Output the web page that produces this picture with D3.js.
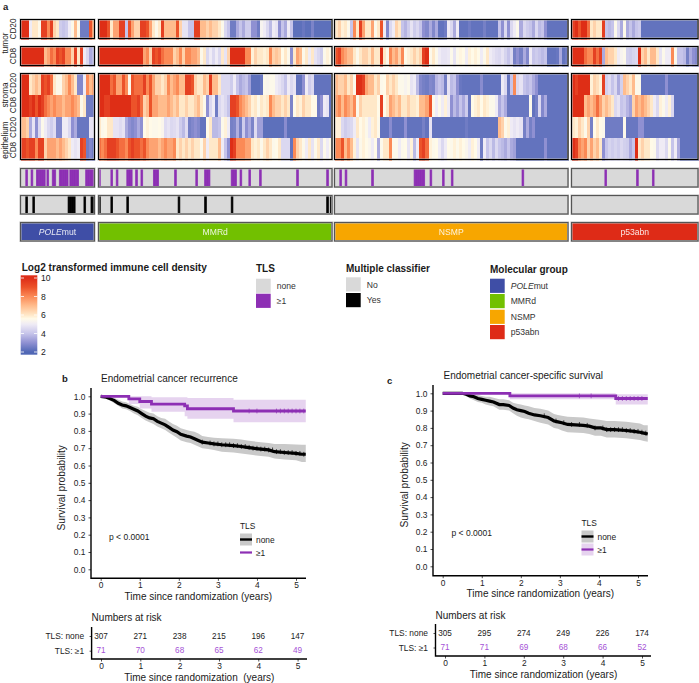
<!DOCTYPE html>
<html><head><meta charset="utf-8">
<script src="https://cdn.jsdelivr.net/npm/d3@7"></script>
<style>
html,body{margin:0;padding:0;background:#fff}
text{font-family:"Liberation Sans",Arial,sans-serif;fill:#1a1a1a}
</style></head><body>
<svg id="c" width="699" height="683"></svg>
<script>
// ---------- heatmap values, one array per row per molecular group ----------
const groups = ["POLEmut","MMRd","NSMP","p53abn"];
const groupColors = ["#3f4ea6","#72c000","#f7a600","#de2b17"];
const groupPatients = [42,132,132,72];

const tumorCD20_POLE=[10,10,10,5,6,6,5.5,9.5,9.5,8,9.5,6.5,6,4.2,4,4.2,5,5.5,7,5.5,2.5,2.5,2.5,9,7.5];
const tumorCD8_POLE=[10,10,10,10,10,10,10,10,7,7.5,8.5,8,9.5,9,9.5,8,8,6.5,9.5,6,9.5,5,4.5,3.5,3.8];
const stromaCD20_POLE=[10,10,10,6,6.5,7,6.5,9.5,9,9.5,8.5,6,5.5,5.5,6.5,7,8,7,6,2.8,2.8,5,8,7,7.5];
const stromaCD8_POLE=[10,10,10,9.5,10,9,10,9.5,8.5,8,7.5,8,7.5,7.5,7,7.5,7.5,8,7.5,7,5.5,6,2.5,2.5,2.5];
const epiCD20_POLE=[7,7,6.5,3.5,4.8,3,4.5,5.5,5,4.5,4.2,4.6,2.8,2.8,5,5,4.5,3,3.5,2.4,2.4,2.4,2.4,4.8,4.8];
const epiCD8_POLE=[9.5,9.5,9,9.5,9.5,8,9.5,9.5,6.5,7.5,7.5,7.5,7,7.5,7,6.5,6,5,4.8,5,9.5,9,2.5,2.8,2.5];

const tumorCD20_MMRd=[10,10,10,9,6,7.5,7.5,9.5,9.5,4,9,7.5,6.5,6.5,9.5,9.5,9,7.5,6,5.5,6,9.5,7,7,7,7,9,6.5,4.8,4.8,4,4,9.5,9.5,7,7,6.5,7,6.5,
 6.5,6,5.5,4.5,4,2.5,2.5,3.5,4,3.5,4.2,4.2,3,3,2.5,5.3,5,4.5,3.8,5,4.8,3,4,3.5,5,4,2.2,2.2,2.2,2.4,2.2,2.2,2.7,2.2,2.2,2.2,2.2,2.2,2.2];
const tumorCD8_MMRd=[10,10,10,10,10,10,10,10,10,10,10,10,10,10,10,7.5,8,6.5,9.5,9,9.5,8.5,8,8,8,6.5,7,8,6.5,8,8,7.5,7.5,7,5.5,6,4.5,5,4.5,
 5,4.5,6,4.8,6.5,10,10,10,10,10,8,8,5.8,6.5,6,6,5.8,6,8,6.5,6.8,6.5,5.6,6,5.5,3,6,7.5,7,5.5,6,5,6,4.8,4.5,4.2,5.5,5.8,5.6];
const stromaCD20_MMRd=[10,10,10,10,8.5,9,7.5,7.5,9,8,5.5,9,8.5,8.5,8.5,9.5,8,9,7.5,6.5,6.5,6,6.5,8,7,7.5,8,7,7,9.5,9.5,9,6.5,6,6,7,6.5,9.5,7,
 7,6,4.5,4.5,4.5,4.2,5,4,3.5,3.8,4,3.3,2.2,2.2,2.2,2.4,5.5,5.4,5.5,5.5,5,4.8,4.5,4,5,4.5,4.8,2.3,2.3,3,5,4.2,4.5,2.3,2.3,2.3,2.3,2.3,2.3];
const stromaCD8_MMRd=[10,10,9.5,9.5,10,10,10,10,10,10,10,9,9,9.5,8.5,6.5,7,9,7.5,7.5,7,7,7,7.5,7,6.5,7,6,6,6.5,6,6,6.5,7,6,5.5,3,4.5,5,
 2.5,4.5,4.8,4.5,4,9.5,9.5,9,8,7.5,7,6.5,5.8,6,5.5,6,5.8,6,8,7,6.5,6.5,6,6.5,6,2.7,5.6,6,5.8,6.5,6,6,5.6,5.6,2.5,3,5,4.8,2.3];
const epiCD20_MMRd=[6,5.5,5.6,6,6,4.8,4.8,4.6,4.8,3.5,3,2.8,3,3.5,3,5.6,5.8,5.6,5.5,5.5,5.6,5.4,4.6,4.8,4.5,4.6,4.8,4.2,3.8,4.6,2.6,2.8,3,2.8,2.3,2.3,5.6,6,3.8,
 3.8,4,5.5,5.8,5,2.6,2.7,3.6,2.6,4.2,3,3.5,2.7,4.6,3.3,3.3,2.2,2.2,2.2,2.2,2.2,2.2,2.2,2.9,2.2,2.2,2.2,2.2,2.2,2.2,2.2,2.2,2.2,2.2,2.2,2.2,2.2,2.2,2.2];
const epiCD8_MMRd=[8.5,8,8.5,9.5,9.5,9.5,9,8.5,8.5,8,9,9.5,9,9,8.5,9,8,7.5,7.5,7.5,7,7.5,8,7.5,7.5,8,6,6.5,6,6.5,6,6.5,6,6,5.5,6.5,5,6,6,
 6,7,5,4,3,10,9.5,8,8,8,7.5,7.5,6,5.8,6,5.5,6,6.5,6,5.5,5.6,6,4.5,4.5,4.5,2.3,8,6.5,6,5.5,5,6,4.8,5.5,6,4.5,5.5,5,5.5];

const tumorCD20_NSMP=[6,6.5,5.8,6,5.5,4,8,6,9.5,7.5,6,6,7.5,5.5,6,9,5,2.8,4.5,5,6.5,6,4,3.7,4.2,4.8,4.2,4.5,4,3,2.8,3.5,2.8,3.5,2.3,2.3,2.5,5,4.5,
 3.5,5,2.3,2.3,2.3,2.5,2.3,2.3,2.3,2.3,2.6,2.3,2.3,2.3,2.3,4,3,4.5,3,4.5,5,5.5,3.5,4.5,4.2,4,3.5,4.5,3.8,4,3,2.3,2.3,2.3,2.3,2.3,2.3,2.3];
const tumorCD8_NSMP=[9,9.5,8,7.5,7,7,6,5.5,6,6.5,6.5,6,7,6,6,10,6,5.5,8,7,7.5,6.5,8,5.6,5.8,6,6.5,6,6.5,9.5,10,5.5,6,5.5,5,4.8,4.8,4.9,5.5,
 4.8,5.5,5.7,5.6,5,5.8,5.6,5.8,5.6,5,5.5,6,5,4.8,4.6,4.5,4.8,4.4,4,4.5,2.6,3,2.6,3.5,2.8,5,4,4.2,4,3.8,4,2.3,2.3,2.3,2.4,3.5,2.3,2.5];
const stromaCD20_NSMP=[7,6.5,6.5,7,6,6.5,5.5,10,10,9.5,7.5,7,7,6,6.5,5.5,5.6,6.5,6,6.5,6,5.5,5.5,5.3,5.5,4.8,5,3.8,2.8,2.6,2.5,2.8,2.7,3.7,4,3.8,2.6,4.8,3.8,
 4,3,2.4,2.3,2.3,2.3,2.3,2.3,2.3,2.9,2.3,2.3,2.3,2.3,2.3,2.3,5,4.5,2.4,4,8,4.5,4.8,4,3.8,4,3.5,3,2.3,2.3,2.3,2.3,2.3,2.3,2.3,2.3,2.3,2.3];
const stromaCD8_NSMP=[7.5,8,7,8,7.5,7,8,5.5,6.5,6,6,6,6,6,5.6,9.5,5.6,6,7.5,7,6.5,7,6,6,6.5,6,6,5.8,7,7,7.5,9,5.5,5,5.5,5,5.8,5,3,
 3.8,3.3,4,3.5,4.2,2.4,5.6,5.8,6,5.6,6,5.8,5.5,5.5,5,3.5,4,3.5,2.4,2.4,2.4,2.4,2.4,2.4,2.4,5.5,2.3,2.6,4.5,2.8,3.5,2.3,2.3,2.3,2.3,2.3,2.3,2.3];
const epiCD20_NSMP=[5.8,5.8,4.5,4.2,4.4,4.5,5,6,5.6,5.8,5.5,5,5.8,6,5.5,2.3,2.3,2.3,2.9,2.3,2.3,2.3,2.3,3,2.3,2.3,2.3,2.3,2.3,2.6,2.3,4.8,2.3,2.3,2.3,2.3,2.3,2.3,2.3,
 2.3,2.3,2.3,2.3,2.5,2.3,2.3,2.3,2.3,2.3,2.3,2.3,2.3,2.3,2.3,7,6.5,5.5,5.8,5,4.8,5,4.8,2.6,3.5,2.6,3,2.3,2.3,2.3,2.3,2.3,2.3,2.3,2.3,2.3,2.3,2.3];
const epiCD8_NSMP=[8,8,9,7,8,7,5.8,4.8,5.5,5.8,5.6,5.4,5,5.6,3.5,5.5,6,6,8,5.5,5.5,5,5.5,5.6,4.8,5.8,3.8,5,9,9.5,8.5,5.8,5.5,5.6,5,4.5,5,5.6,5.5,
 5.8,5.5,5.8,5.6,5.4,5,5.8,5.6,5,2.5,5,4,4.5,3.8,4.5,4,3.8,3.5,4,3.5,3.3,2.3,2.3,2.3,2.3,2.3,2.3,2.3,2.3,2.3,3,2.3,2.3,2.3,2.3,2.3,2.3,2.3];

const tumorCD20_p53=[9.5,10,9,10,10,8.5,6,6.5,6,6,9.5,4,3.8,4,5.5,4.5,3.5,5.5,3.5,4,3.5,4,4.2,2.3,2.3,2.3,2.3,2.3,2.3,2.3,2.3,2.3,2.3,2.3,2.3,2.3,2.3,2.3,2.3,2.3,2.3,2.3];
const tumorCD8_p53=[10,10,10,10,8.5,8,8,9.5,8.5,9.5,3.5,7,6.5,6.5,6,5,5.3,5.5,4.3,4.2,4.4,4.5,10,6.5,7,6,7,7,6,4.8,5.5,5,5,8,5.5,4,4,3.8,2.6,3.5,3,2.8];
const stromaCD20_p53=[10,9.5,10,10,10,10,5.8,6.5,6.2,5.8,9.5,4.3,4.6,4,4.5,3.5,4.3,7,6.5,6,7,5.5,5.5,2.3,2.3,2.3,2.3,2.3,2.3,2.3,2.3,3,2.3,2.3,2.3,2.3,2.3,2.3,2.3,2.3,2.3,2.3];
const stromaCD8_p53=[10,10,10,10,7,7.5,7,7.5,8.5,7.5,6.5,7,6.5,6,4.5,4.8,4,4.2,3.7,3.3,6.5,7.5,7,7.5,7,6.5,6,5,4.5,5.8,5.5,5,5.8,4.5,2.3,2.3,2.3,2.3,2.3,2.3,2.3,2.3];
const epiCD20_p53=[6,5.8,6.5,6,5.5,6.5,2.6,5.6,6,5.6,5.5,2.5,2.5,2.5,2.5,2.5,2.5,5.5,2.4,2.4,2.4,2.4,3,3,2.3,2.3,2.3,2.3,2.3,2.3,2.3,2.3,2.3,2.3,2.3,2.3,2.3,2.3,2.3,2.3,2.3,2.3];
const epiCD8_p53=[10,9.5,8,7.5,8,6.5,7.5,6.5,7,6,3,4,4.4,4.2,4.4,4.2,4.5,4.3,4.2,3.5,4,10,6,6.5,6,6,5.6,5.5,4.5,5,5,4.5,5.5,4,5,3.5,2.3,2.3,2.3,2.3,2.3,2.3];

// ---------- annotation tracks: patient positions within each group ----------
const tlsPOLE=[3,6,9,10,11,12,13,15,18,19,22,23,24,25,26,28,29,30,31,32,37,38,39,40,41];
const tlsMMRd=[0,7,10,16,17,18,21,24,31,32,33,43,55,60,61,62,75,76,77,80,85,91,112,129];
const tlsNSMP=[3,6,21,45,46,47,48,49,50,54,61,66,106];
const tlsP53=[19,37,46];
const multiPOLE=[3,7,27,28,29,30,36,40,41];
const multiMMRd=[0,7,16,45,60,75,129,131];
const multiNSMP=[];
const multiP53=[];

const densityTicks=[2,4,6,8,10];
const colorStops=[2,3,4,5,5.6,6,7,8,9,10];
const colorValues=["#5067b5","#8f90d2","#c6c4ea","#efebf5","#fffae8","#ffe8c8","#ffbc8d","#fb8a57","#ec5229","#de2d18"];

// ---------- Kaplan-Meier curves ----------
const bNoneT=[0,.15,.25,.35,.45,.55,.65,.75,.85,.95,1.05,1.15,1.25,1.35,1.45,1.55,1.65,1.75,1.85,1.95,2.05,2.2,2.3,2.4,2.5,2.6,2.75,2.9,3.1,3.4,3.6,3.75,3.9,4.1,4.3,4.45,4.7,5.0,5.15,5.25];
const bNoneS=[1,.995,.985,.975,.96,.95,.945,.935,.925,.915,.90,.885,.875,.87,.855,.845,.835,.82,.805,.795,.78,.77,.765,.755,.745,.735,.73,.725,.72,.715,.71,.705,.70,.695,.69,.68,.675,.67,.665,.665];
const bNoneL=[1,.985,.975,.96,.945,.93,.925,.915,.90,.89,.875,.86,.85,.84,.825,.815,.805,.79,.775,.76,.745,.735,.73,.72,.71,.70,.695,.69,.68,.675,.67,.665,.66,.655,.65,.64,.635,.63,.62,.62];
const bNoneU=[1,1,.995,.99,.98,.97,.965,.955,.945,.94,.925,.915,.905,.90,.885,.875,.87,.855,.84,.83,.815,.805,.80,.795,.785,.77,.765,.76,.757,.755,.75,.745,.74,.735,.73,.725,.725,.722,.72,.72];
const bTlsT=[0,.72,1.0,1.3,2.15,2.22,3.4,5.25];
const bTlsS=[1,.985,.97,.955,.945,.928,.915,.915];
const bTlsL=[1,.955,.93,.91,.885,.87,.85,.85];
const bTlsU=[1,1,1,.995,.995,.99,.98,.98];
const cNoneT=[0,.5,.6,.7,.8,.9,1,1.1,1.2,1.3,1.45,1.55,1.7,1.8,1.9,2,2.1,2.2,2.35,2.5,2.7,2.85,2.95,3.05,3.2,3.6,3.75,3.9,4.05,4.2,4.4,4.7,4.9,5.05,5.15,5.25];
const cNoneS=[1,1,.995,.985,.98,.97,.965,.96,.955,.95,.935,.935,.93,.915,.905,.9,.895,.885,.875,.87,.86,.84,.835,.83,.82,.815,.81,.80,.80,.79,.79,.785,.78,.775,.77,.765];
const cNoneL=[1,.995,.985,.97,.96,.95,.945,.935,.93,.925,.905,.905,.9,.885,.87,.86,.855,.85,.84,.83,.82,.80,.795,.785,.775,.77,.765,.755,.755,.745,.745,.74,.735,.73,.725,.72];
const cNoneU=[1,1,1,.995,.995,.99,.985,.98,.98,.975,.965,.965,.96,.945,.94,.935,.93,.925,.915,.91,.90,.88,.875,.87,.865,.86,.855,.85,.845,.84,.84,.835,.83,.825,.815,.815];
const cTlsT=[0,1.72,4.43,5.25];
const cTlsS=[1,.985,.97,.97];
const cTlsL=[1,.965,.935,.935];
const cTlsU=[1,1,.995,.995];
const bNoneCens=[2.6,2.8,2.9,3.0,3.1,3.2,3.3,3.4,3.5,3.6,3.7,3.8,3.9,4.0,4.1,4.2,4.3,4.4,4.5,4.6,4.7,4.8,4.9,5.0,5.1,5.2];
const bTlsCens=[3.8,4.0,4.5,4.6,4.7,4.8,4.9,5.0,5.1,5.2];
const cNoneCens=[2.6,2.9,3.1,3.3,3.5,3.7,3.9,4.1,4.2,4.3,4.4,4.5,4.6,4.7,4.8,4.9,5.0,5.1,5.2];
const cTlsCens=[3.5,3.8,4.5,4.6,4.7,4.8,4.9,5.0,5.1];
const timeTicks=[0,1,2,3,4,5];
const survTicks=[0,.1,.2,.3,.4,.5,.6,.7,.8,.9,1];
const bRiskNone=[307,271,238,215,196,147];
const bRiskTls=[71,70,68,65,62,49];
const cRiskNone=[305,295,274,249,226,174];
const cRiskTls=[71,71,69,68,66,52];

const BLACK="#000", PURPLE="#8d2fb4", RISKP="#a552d6";
const svg=d3.select("#c");
const color=d3.scaleLinear().domain(colorStops).range(colorValues).clamp(true);

// ---------- helper ----------
function txt(x,y,s,o={}){
  const t=svg.append("text").attr("x",x).attr("y",y).attr("font-size",o.size||9)
    .attr("text-anchor",o.anchor||"start").attr("dominant-baseline","central").text(s);
  if(o.weight)t.attr("font-weight",o.weight);
  if(o.fill)t.style("fill",o.fill);
  if(o.rot!==undefined)t.attr("transform",`rotate(${o.rot} ${x} ${y})`);
  if(o.pre)t.style("white-space","pre");
  return t;
}

// ---------- heatmap ----------
const panelX=d3.scaleOrdinal().domain(groups).range([[20.5,94.5],[98.5,332],[334.5,568],[571.5,698]]);
const rows=[
 {y0:19.5,y1:38.5,d:[tumorCD20_POLE,tumorCD20_MMRd,tumorCD20_NSMP,tumorCD20_p53]},
 {y0:46.5,y1:65.5,d:[tumorCD8_POLE,tumorCD8_MMRd,tumorCD8_NSMP,tumorCD8_p53]},
 {y0:73.5,y1:95,d:[stromaCD20_POLE,stromaCD20_MMRd,stromaCD20_NSMP,stromaCD20_p53]},
 {y0:95,y1:116.5,d:[stromaCD8_POLE,stromaCD8_MMRd,stromaCD8_NSMP,stromaCD8_p53]},
 {y0:116.5,y1:138,d:[epiCD20_POLE,epiCD20_MMRd,epiCD20_NSMP,epiCD20_p53]},
 {y0:138,y1:159.5,d:[epiCD8_POLE,epiCD8_MMRd,epiCD8_NSMP,epiCD8_p53]}
];
const defs=svg.append("defs");
defs.append("filter").attr("id","soft").attr("x","-2%").attr("y","-2%").attr("width","104%").attr("height","104%")
  .append("feGaussianBlur").attr("stdDeviation","0.45 0.15");
function frame(x0,x1,y0,y1,stroke){
  svg.append("rect").attr("x",x0).attr("y",y0).attr("width",x1-x0).attr("height",y1-y0)
   .attr("fill","none").attr("stroke","#b5b5b5").attr("stroke-width",2);
  svg.append("rect").attr("x",x0).attr("y",y0).attr("width",x1-x0).attr("height",y1-y0)
   .attr("fill","none").attr("stroke",stroke).attr("stroke-width",1);
}
groups.forEach((g,gi)=>{
  const [x0,x1]=panelX(g);
  rows.forEach(r=>{
    const vals=r.d[gi];
    const x=d3.scaleBand().domain(d3.range(vals.length)).range([x0,x1]);
    svg.append("g").attr("shape-rendering","crispEdges").attr("filter","url(#soft)")
      .selectAll("rect").data(vals).join("rect")
      .attr("x",(d,i)=>x(i)).attr("y",Math.round(r.y0)).attr("width",x.bandwidth()+.6).attr("height",Math.round(r.y1)-Math.round(r.y0)+.5)
      .attr("fill",d=>color(d));
  });
  frame(x0,x1,19.5,38.5,"#000");
  frame(x0,x1,46.5,65.5,"#000");
  frame(x0,x1,73.5,159.5,"#000");

  // annotation tracks
  const px=d3.scaleBand().domain(d3.range(groupPatients[gi])).range([x0,x1]);
  const track=(list,col,y0,y1)=>{
    svg.append("rect").attr("x",x0).attr("y",y0).attr("width",x1-x0).attr("height",y1-y0).attr("fill","#d9d9d9");
    svg.append("g").selectAll("rect").data(list).join("rect")
      .attr("x",d=>px(d)).attr("y",y0).attr("width",px.bandwidth()).attr("height",y1-y0)
      .attr("fill",col).attr("stroke",col).attr("stroke-width",.7);
    frame(x0,x1,y0,y1,"#555");
  };
  track([tlsPOLE,tlsMMRd,tlsNSMP,tlsP53][gi],PURPLE,168.5,187);
  track([multiPOLE,multiMMRd,multiNSMP,multiP53][gi],BLACK,195.5,214);
  svg.append("rect").attr("x",x0).attr("y",222.5).attr("width",x1-x0).attr("height",18.5).attr("fill",groupColors[gi]);
  frame(x0,x1,222.5,241,"#555");
  const lab=txt((x0+x1)/2,232,"",{size:8.6,anchor:"middle",fill:"#ffffff"});
  lab.style("fill","#fff").style("opacity",.88);
  if(g==="POLEmut"){
    lab.append("tspan").attr("font-style","italic").style("fill","#fff").text("POLE");
    lab.append("tspan").style("fill","#fff").text("mut");
  } else lab.text(g);
});

// row labels
[["tumor",5,43],["CD20",13.5,29],["CD8",13.5,56],["stroma",5,95],["CD20",13.5,83.5],["CD8",13.5,105],
 ["CD20",13.5,127.5],["epithelium",5,140],["CD8",13.5,150]].forEach(d=>txt(d[1],d[2],d[0],{size:8.2,anchor:"middle",rot:-90}));
txt(3,6,"a",{size:9.5,weight:"bold"});

// ---------- legends ----------
txt(21.7,267,"Log2 transformed immune cell density",{size:10.1,weight:"bold"});
const barY=d3.scaleLinear().domain([2,10]).range([352,278]);
const grad=defs.append("linearGradient").attr("id","cb").attr("x1",0).attr("x2",0).attr("y1",1).attr("y2",0);
grad.selectAll("stop").data(colorStops).join("stop")
  .attr("offset",d=>(d-2)/8).attr("stop-color",d=>color(d));
svg.append("rect").attr("x",20.7).attr("y",275.3).attr("width",16.6).attr("height",3).attr("fill",color(10));
svg.append("rect").attr("x",20.7).attr("y",352).attr("width",16.6).attr("height",2.7).attr("fill",color(2));
svg.append("rect").attr("x",20.7).attr("y",278).attr("width",16.6).attr("height",74).attr("fill","url(#cb)");
densityTicks.forEach(t=>{
  svg.append("path").attr("d",`M20.7 ${barY(t)}h3.3M34 ${barY(t)}h3.3`).attr("stroke","#fff").attr("stroke-width",.8);
  txt(41,barY(t),String(t),{size:8.6});
});
function legend(x,title,titleY,items,labX){
  txt(x,titleY,title,{size:10,weight:"bold"});
  items.forEach(it=>{
    svg.append("rect").attr("x",x).attr("y",it.y).attr("width",14.7).attr("height",14.2).attr("fill",it.c);
    const t=txt(labX,it.y+7.3,"",{size:8.6,fill:"#333"});
    if(it.it){t.append("tspan").attr("font-style","italic").text(it.it);t.append("tspan").text(it.l);}
    else t.text(it.l);
  });
}
legend(256,"TLS",268.3,[{y:278.7,c:"#d9d9d9",l:"none"},{y:293.7,c:PURPLE,l:"≥1"}],276.7);
legend(346,"Multiple classifier",268,[{y:277.3,c:"#d9d9d9",l:"No"},{y:293,c:"#000",l:"Yes"}],366.7);
legend(490,"Molecular group",269,[{y:278.7,c:groupColors[0],it:"POLE",l:"mut"},{y:294,c:groupColors[1],l:"MMRd"},{y:309.7,c:groupColors[2],l:"NSMP"},{y:325,c:groupColors[3],l:"p53abn"}],510.7);

// ---------- KM panels ----------
function km(o){
  const x=d3.scaleLinear().domain([0,5]).range([o.x0,o.x5]);
  const y=d3.scaleLinear().domain([0,1]).range([o.y0,o.y1]);
  const series=[
   {T:o.noneT,S:o.noneS,L:o.noneL,U:o.noneU,c:BLACK,band:"#c9c9c9",cens:o.noneCens,w:3.2,curve:d3.curveLinear},
   {T:o.tlsT,S:o.tlsS,L:o.tlsL,U:o.tlsU,c:PURPLE,band:"#e6d3ef",cens:o.tlsCens,w:2.8,curve:d3.curveStepAfter}
  ];
  series.forEach(s=>{
    const pts=s.T.map((t,i)=>({t,s:s.S[i],l:s.L[i],u:s.U[i]}));
    svg.append("path").attr("fill",s.band)
      .attr("d",d3.area().curve(s.curve).x(d=>x(d.t)).y0(d=>y(d.l)).y1(d=>y(d.u))(pts));
  });
  series.forEach(s=>{
    const pts=s.T.map((t,i)=>({t,s:s.S[i]}));
    svg.append("path").attr("fill","none").attr("stroke",s.c).attr("stroke-width",s.w)
      .attr("d",d3.line().curve(s.curve).x(d=>x(d.t)).y(d=>y(d.s))(pts));
    const sAt=t=>s.S[d3.bisectRight(s.T,t)-1];
    svg.append("g").selectAll("path").data(s.cens).join("path")
      .attr("d",t=>`M${x(t)} ${y(sAt(t))-2.4}v4.8`).attr("stroke",s.c).attr("stroke-width",.7);
  });
  const yAxis=d3.axisLeft(y).tickValues(survTicks).tickFormat(d3.format(".1f")).tickSize(2.5);
  const xAxis=d3.axisBottom(x).tickValues(timeTicks).tickFormat(d3.format("d")).tickSize(2.5).tickPadding(1.5);
  const ga=svg.append("g").attr("transform",`translate(${o.axisX},0)`).call(yAxis);
  const gb=svg.append("g").attr("transform",`translate(0,${o.axisY})`).call(xAxis);
  [ga,gb].forEach(g=>{
    g.selectAll(".domain").remove();
    g.selectAll("line").attr("stroke","#222").attr("stroke-width",.8);
    g.selectAll("text").attr("font-size",8.4).style("font-family",'"Liberation Sans",Arial,sans-serif').style("fill","#222");
  });
  svg.append("path").attr("fill","none").attr("stroke","#000").attr("stroke-width",1.4)
    .attr("d",`M${o.axisX} ${o.top}V${o.axisY}H${o.right}`);
  txt(o.titleX,o.titleY,o.title,{size:10});
  txt(o.ylabX,(o.y0+o.y1)/2+5,"Survival probability",{size:10.2,anchor:"middle",rot:-90});
  txt((o.x0+o.x5)/2,o.axisY+18,"Time since randomization (years)",{size:10,anchor:"middle"});
  txt(o.pX,o.pY,"p < 0.0001",{size:8.5});
  // inline legend
  txt(o.legX,o.legY,"TLS",{size:8.4});
  svg.append("rect").attr("x",o.legX).attr("y",o.legY+8).attr("width",12).attr("height",12).attr("fill","#c9c9c9");
  svg.append("path").attr("d",`M${o.legX} ${o.legY+14}h12`).attr("stroke","#000").attr("stroke-width",2.4);
  txt(o.legX+16,o.legY+14,"none",{size:8.4});
  svg.append("rect").attr("x",o.legX).attr("y",o.legY+21).attr("width",12).attr("height",12).attr("fill",o.legBand);
  svg.append("path").attr("d",`M${o.legX} ${o.legY+27}h12`).attr("stroke",PURPLE).attr("stroke-width",2.2);
  txt(o.legX+16,o.legY+27,"≥1",{size:8.4});
}
km({x0:100.7,x5:296,y0:569.3,y1:396.3,axisX:91,axisY:578.3,top:388,right:306,
  noneT:bNoneT,noneS:bNoneS,noneL:bNoneL,noneU:bNoneU,noneCens:bNoneCens,
  tlsT:bTlsT,tlsS:bTlsS,tlsL:bTlsL,tlsU:bTlsU,tlsCens:bTlsCens,
  title:"Endometrial cancer recurrence",titleX:101,titleY:378,ylabX:62,pX:109,pY:536.5,legX:240,legY:525.5,legBand:"#ffffff"});
km({x0:442.7,x5:638,y0:566.3,y1:393.3,axisX:433,axisY:575.7,top:385,right:648,
  noneT:cNoneT,noneS:cNoneS,noneL:cNoneL,noneU:cNoneU,noneCens:cNoneCens,
  tlsT:cTlsT,tlsS:cTlsS,tlsL:cTlsL,tlsU:cTlsU,tlsCens:cTlsCens,
  title:"Endometrial cancer-specific survival",titleX:443.5,titleY:375,ylabX:405,pX:451.5,pY:533,legX:581.5,legY:522.5,legBand:"#e6d3ef"});
txt(62,378,"b",{size:9.5,weight:"bold"});
txt(387,380.5,"c",{size:9.5,weight:"bold"});

// ---------- risk tables ----------
function risk(o){
  const x=d3.scaleLinear().domain([0,5]).range([o.x0,o.x5]);
  const y=d3.scalePoint().domain(["TLS: none","TLS: ≥1"]).range([o.y0,o.y1]);
  txt(o.axisX,o.titleY,"Numbers at risk",{size:10});
  o.none.forEach((v,i)=>txt(x(timeTicks[i]),o.y0,String(v),{size:8.2,anchor:"middle"}));
  o.tls.forEach((v,i)=>txt(x(timeTicks[i]),o.y1,String(v),{size:8.2,anchor:"middle",fill:RISKP}));
  const ya=svg.append("g").attr("transform",`translate(${o.axisX},0)`).call(d3.axisLeft(y).tickSize(2).tickPadding(5.5));
  const xa=svg.append("g").attr("transform",`translate(0,${o.axisY})`).call(d3.axisBottom(x).tickValues(timeTicks).tickFormat(d3.format("d")).tickSize(2.5).tickPadding(1.5));
  [ya,xa].forEach(g=>{
    g.selectAll(".domain").remove();
    g.selectAll("line").attr("stroke","#222").attr("stroke-width",.8);
    g.selectAll("text").attr("font-size",8.4).style("font-family",'"Liberation Sans",Arial,sans-serif').style("fill","#222");
  });
  svg.append("path").attr("fill","none").attr("stroke","#000").attr("stroke-width",1.4)
    .attr("d",`M${o.axisX} ${o.top}V${o.axisY}H${o.right}`);
  txt((o.x0+o.x5)/2+o.labDx,o.axisY+18.5,o.label,{size:10,anchor:"middle",pre:true});
}
risk({x0:101,x5:297.6,axisX:91.6,axisY:659,top:627,right:307,y0:636,y1:650.7,titleY:617,none:bRiskNone,tls:bRiskTls,label:"Time since randomization  (years)",labDx:0});
risk({x0:445,x5:642,axisX:435.5,axisY:656,top:624,right:651,y0:633,y1:647.5,titleY:615,none:cRiskNone,tls:cRiskTls,label:"Time since randomization (years)",labDx:0});
</script>
</body></html>
